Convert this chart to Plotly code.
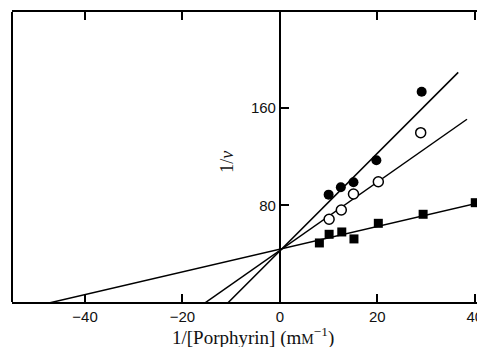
import plotly.graph_objects as go

# Data
filled_circle_x = [10.0, 12.5, 15.1, 19.8, 29.1]
filled_circle_y = [88.8, 94.8, 98.9, 117.0, 173.2]

open_circle_x = [10.1, 12.6, 15.1, 20.2, 28.9]
open_circle_y = [68.6, 76.2, 89.3, 99.4, 139.6]

square_x = [8.1, 10.1, 12.7, 15.2, 20.2, 29.4, 40.1]
square_y = [49.2, 56.3, 58.2, 52.5, 65.3, 72.7, 82.2]

# fitted lines (end points)
line1_x = [-10.7, 36.6]
line1_y = [0.0, 189.0]
line2_x = [-15.4, 38.4]
line2_y = [0.0, 150.6]
line3_x = [-47.4, 42.1]
line3_y = [0.0, 83.2]

x_ticks = [-40, -20, 0, 20, 40]
x_tick_labels = ["\u221240", "\u221220", "0", "20", "40"]
y_ticks = [80, 160]

x_range = [-55.0, 42.1]
y_range = [0.8, 238.5]

fig = go.Figure()
for lx, ly in [(line1_x, line1_y), (line2_x, line2_y), (line3_x, line3_y)]:
    fig.add_trace(go.Scatter(x=lx, y=ly, mode="lines",
                             line=dict(color="black", width=1.5),
                             showlegend=False, hoverinfo="skip"))

fig.add_trace(go.Scatter(x=filled_circle_x, y=filled_circle_y, mode="markers",
                         marker=dict(symbol="circle", size=10, color="black"),
                         showlegend=False))
fig.add_trace(go.Scatter(x=open_circle_x, y=open_circle_y, mode="markers",
                         marker=dict(symbol="circle", size=10, color="white",
                                     line=dict(color="black", width=1.5)),
                         showlegend=False))
fig.add_trace(go.Scatter(x=square_x, y=square_y, mode="markers",
                         marker=dict(symbol="square", size=9, color="black"),
                         showlegend=False))

ypos = (0 - x_range[0]) / (x_range[1] - x_range[0])

# the page body adds an 8px offset, so the figure is 8px smaller
fig.update_layout(
    width=477, height=339,
    margin=dict(l=4, r=0, t=4, b=45),
    paper_bgcolor="white", plot_bgcolor="white",
    font=dict(family="Liberation Sans, Arial, sans-serif", size=15, color="#111"),
    xaxis=dict(range=x_range, tickvals=x_ticks, ticktext=x_tick_labels,
               showgrid=False, zeroline=True, zerolinecolor="black", zerolinewidth=2,
               showline=True, linecolor="black", linewidth=2, mirror="ticks",
               ticks="inside", ticklen=8, tickwidth=2, tickcolor="black"),
    yaxis=dict(range=y_range, tickvals=y_ticks, showgrid=False, zeroline=False,
               anchor="free", position=ypos, side="left",
               showline=True, linecolor="black", linewidth=2,
               ticks="inside", ticklen=8, tickwidth=2, tickcolor="black"),
    shapes=[dict(type="line", xref="paper", yref="paper", x0=0, x1=0, y0=0, y1=1,
                 line=dict(color="black", width=2))],
    annotations=[
        dict(text="1/<i>v</i>", x=-10.9, y=115.6, xref="x", yref="y",
             showarrow=False, textangle=-90,
             font=dict(family="Liberation Serif, serif", size=18, color="#111")),
        dict(text="1/[Porphyrin] (m<span style='font-size:14px'>M</span><sup>\u22121</sup>)",
             x=-5.5, y=-0.12, xref="x", yref="paper", showarrow=False,
             yanchor="middle",
             font=dict(family="Liberation Serif, serif", size=19, color="#111")),
    ],
)

fig.write_html("out.html")
